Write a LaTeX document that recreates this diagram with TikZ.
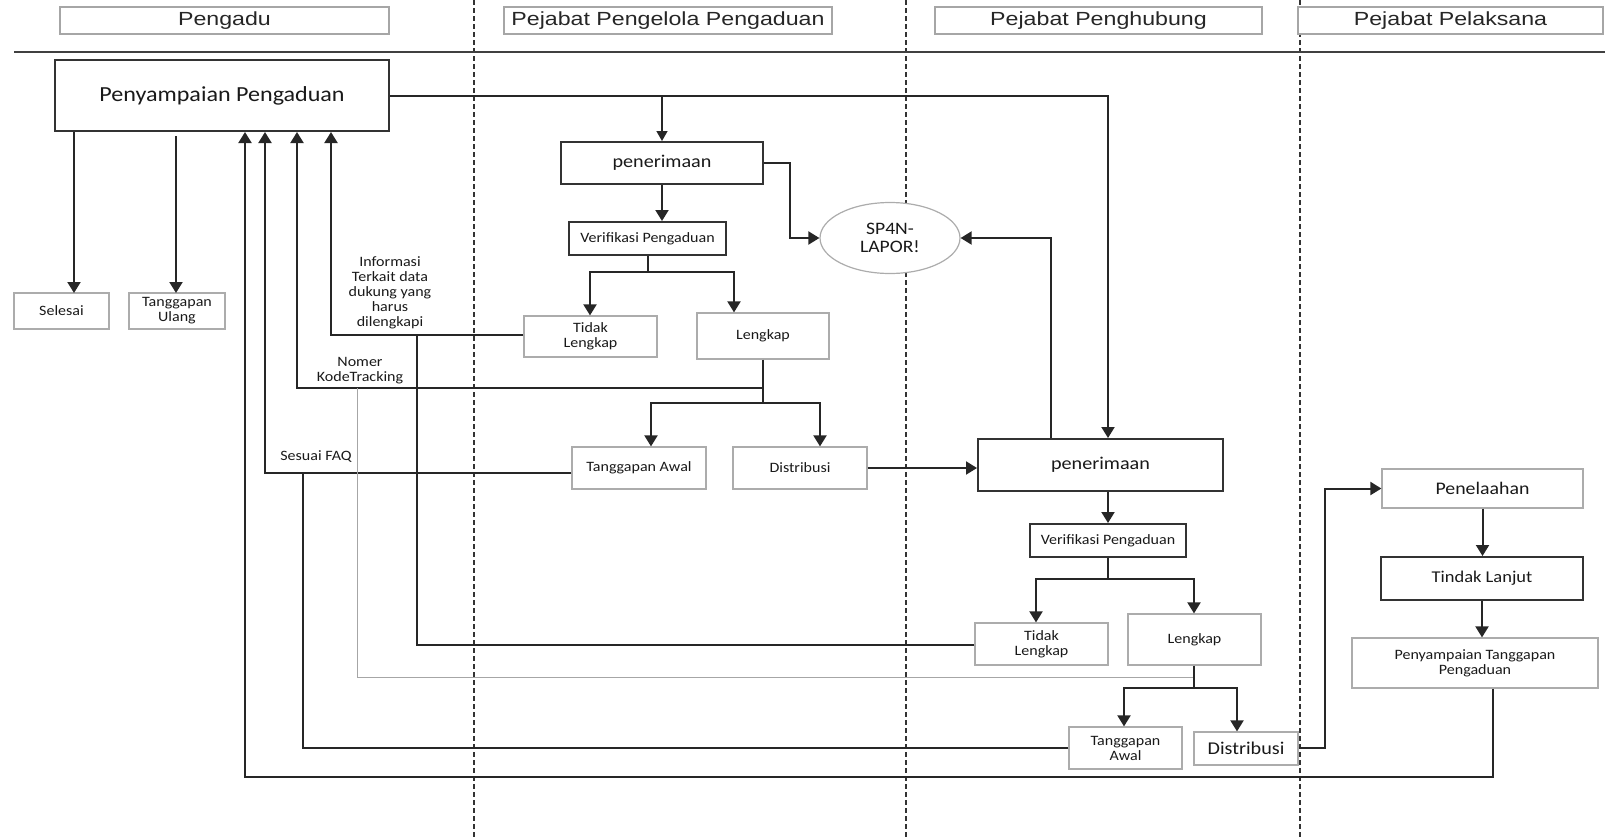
\documentclass[tikz,border=0pt]{standalone}
\usepackage{fontspec}
\setmainfont{Carlito}[FakeStretch=1.12]
\newfontfamily\hdrfont{Liberation Sans}[FakeStretch=1.22]
\usetikzlibrary{arrows.meta,shapes.geometric}
\begin{document}
\begin{tikzpicture}[x=1pt,y=-1pt,
  hdr/.style={draw=gray!70, line width=1.2pt, minimum height=27pt, inner sep=0pt, font=\hdrfont\fontsize{19}{20}\selectfont, text=black!85},
  boxthick/.style={draw=black!80, line width=2pt, inner sep=0pt, align=center, text=black!90},
  boxthin/.style={draw=gray!65, line width=1.2pt, inner sep=0pt, align=center, text=black!90},
  txts/.style={font=\fontsize{14.3}{15}\selectfont},
  lbl/.style={align=center, text=black!90, inner sep=0pt, font=\fontsize{14.3}{15}\selectfont},
  conn/.style={line width=2pt, draw=black!85},
  arr/.style={conn, -{Triangle[length=11pt,width=13pt]}},
  arrthin/.style={line width=1.5pt, draw=black!85, -{Triangle[length=10pt,width=11pt]}},
  thinl/.style={line width=1pt, draw=gray!70},
  lane/.style={line width=1.8pt, draw=black!80, dash pattern=on 5pt off 3pt},
]
\useasboundingbox (0,0) rectangle (1605,838);

% lanes
\draw[lane] (474,0) -- (474,838);
\draw[lane] (906,0) -- (906,838);
\draw[lane] (1300,0) -- (1300,838);
\draw[line width=2pt, black!75] (14,52) -- (1605,52);

% headers
\node[hdr, minimum width=329pt] (hA) at (224.5,20.5) {Pengadu};
\node[hdr, minimum width=328pt] (hB) at (668,20.5) {Pejabat Pengelola Pengaduan};
\node[hdr, minimum width=327pt] (hC) at (1098.5,20.5) {Pejabat Penghubung};
\node[hdr, minimum width=305pt, fill=white] (hD) at (1450.5,20.5) {Pejabat Pelaksana};

% nodes
\node[boxthick, minimum width=334pt, minimum height=71pt, font=\fontsize{21.5}{22}\selectfont] (pp) at (222,95.5) {Penyampaian Pengaduan};
\node[boxthin, txts, minimum width=95pt, minimum height=36pt] (sel) at (61.5,311) {Selesai};
\node[boxthin, txts, minimum width=96pt, minimum height=36pt] (tu) at (177,311) {Tanggapan\\Ulang};
\node[boxthick, minimum width=202pt, minimum height=42pt, font=\fontsize{18}{19}\selectfont] (pen1) at (662,163) {penerimaan};
\node[boxthick, txts, minimum width=157pt, minimum height=33pt] (ver1) at (647.5,238.5) {Verifikasi Pengaduan};
\node[ellipse, draw=gray!65, fill=white, line width=1.2pt, minimum width=140pt, minimum height=71pt, inner sep=0pt, align=center, text=black!90, font=\fontsize{17.5}{18}\selectfont] (sp) at (890,238) {SP4N-\\LAPOR!};
\node[boxthin, txts, minimum width=133pt, minimum height=41pt] (tl1) at (590.5,336.5) {Tidak\\Lengkap};
\node[boxthin, txts, minimum width=132pt, minimum height=46pt] (lk1) at (763,336) {Lengkap};
\node[boxthin, txts, minimum width=134pt, minimum height=42pt] (ta1) at (639,468) {Tanggapan Awal};
\node[boxthin, txts, minimum width=134pt, minimum height=42pt] (ds1) at (800,468) {Distribusi};
\node[boxthick, minimum width=245pt, minimum height=52pt, font=\fontsize{18}{19}\selectfont] (pen2) at (1100.5,465) {penerimaan};
\node[boxthick, txts, minimum width=156pt, minimum height=33pt] (ver2) at (1108,540.5) {Verifikasi Pengaduan};
\node[boxthin, txts, minimum width=133pt, minimum height=42pt] (tl2) at (1041.5,644) {Tidak\\Lengkap};
\node[boxthin, txts, minimum width=133pt, minimum height=51pt] (lk2) at (1194.5,639.5) {Lengkap};
\node[boxthin, txts, minimum width=113pt, minimum height=42pt] (ta2) at (1125.5,748) {Tanggapan\\Awal};
\node[boxthin, minimum width=104pt, minimum height=33pt, font=\fontsize{18}{19}\selectfont] (ds2) at (1246,748.5) {Distribusi};
\node[boxthin, minimum width=201pt, minimum height=39pt, font=\fontsize{17.7}{19}\selectfont] (pel) at (1482.5,488.5) {Penelaahan};
\node[boxthick, minimum width=202pt, minimum height=43pt, font=\fontsize{16.5}{18}\selectfont] (tlj) at (1482,578.5) {Tindak Lanjut};
\node[boxthin, txts, minimum width=246pt, minimum height=50pt] (ptp) at (1475,663) {Penyampaian Tanggapan\\Pengaduan};

% labels
\node[lbl] (linfo) at (390,293) {Informasi\\Terkait data\\dukung yang\\harus\\dilengkapi};
\node[lbl] (lnomer) at (360,370.5) {Nomer\\KodeTracking};
\node[lbl] (lfaq) at (316,457) {Sesuai FAQ};

% junction coordinates
\coordinate (c1) at (1108,96);
\coordinate (c2) at (662,96);
\coordinate (aSel) at (74,293);
\coordinate (aTu0) at (176,136);
\coordinate (aTu) at (176,293);
\coordinate (v1a) at (648,272);
\coordinate (v1l) at (590,272);
\coordinate (v1r) at (734,272);
\coordinate (k1) at (790,238);
\coordinate (k2) at (1051,238);
\coordinate (u4) at (331,335);
\coordinate (t2) at (417,645);
\coordinate (lkj) at (763,403);
\coordinate (u3) at (297,388);
\coordinate (m1) at (651,403);
\coordinate (m2) at (820,403);
\coordinate (u2) at (265,473);
\coordinate (g1) at (357,677);
\coordinate (v2a) at (1108,579);
\coordinate (v2l) at (1036,579);
\coordinate (v2r) at (1194,579);
\coordinate (l2j) at (1194,688);
\coordinate (n1) at (1124,688);
\coordinate (n2) at (1237,688);
\coordinate (f1) at (303,748);
\coordinate (r1) at (1325,748);
\coordinate (b1) at (1493,777);
\coordinate (u1) at (245,777);

% connectors
\draw[arr] (pp.east |- c1) -- (c1) -- (c1 |- pen2.north);
\draw[arrthin] (c2) -- (pen1.north);
\draw[arr] (aSel |- pp.south) -- (aSel);
\draw[arr] (aTu0) -- (aTu);
\draw[arr] (pen1.south) -- (pen1.south |- ver1.north);
\draw[conn] (v1a |- ver1.south) -- (v1a);
\draw[arr] (v1a) -- (v1l) -- (v1l |- tl1.north);
\draw[arr] (v1a) -- (v1r) -- (v1r |- lk1.north);
\draw[arr] (pen1.east) -| (k1) -- (sp.west);
\draw[arr] (k2 |- pen2.north) -- (k2) -- (sp.east);
\draw[arr] (tl1.west |- u4) -- (u4) -- (u4 |- pp.south);
\draw[conn] (tl2.west |- t2) -- (t2) -- (t2 |- u4);
\draw[conn] (lk1.south) -- (lkj);
\draw[arr] (lk1.south |- u3) -- (u3) -- (u3 |- pp.south);
\draw[arr] (lkj) -- (m1) -- (m1 |- ta1.north);
\draw[arr] (lkj) -- (m2) -- (m2 |- ds1.north);
\draw[arr] (ta1.west |- u2) -- (u2) -- (u2 |- pp.south);
\draw[arr] (ds1.east) -- (ds1.east -| pen2.west);
\draw[thinl] (l2j |- g1) -- (g1) -- (g1 |- u3);
\draw[arr] (ver2.north |- pen2.south) -- (ver2.north);
\draw[conn] (ver2.south) -- (v2a);
\draw[arr] (v2a) -- (v2l) -- (v2l |- tl2.north);
\draw[arr] (v2a) -- (v2r) -- (v2r |- lk2.north);
\draw[conn] (l2j |- lk2.south) -- (l2j);
\draw[arr] (l2j) -- (n1) -- (n1 |- ta2.north);
\draw[arr] (l2j) -- (n2) -- (n2 |- ds2.north);
\draw[conn] (ta2.west |- f1) -- (f1) -- (f1 |- u2);
\draw[arr] (ds2.east |- r1) -- (r1) -- (r1 |- pel.west) -- (pel.west);
\draw[arr] (pel.south) -- (pel.south |- tlj.north);
\draw[arr] (tlj.south) -- (tlj.south |- ptp.north);
\draw[arr] (b1 |- ptp.south) -- (b1) -- (u1) -- (u1 |- pp.south);
\end{tikzpicture}
\end{document}
